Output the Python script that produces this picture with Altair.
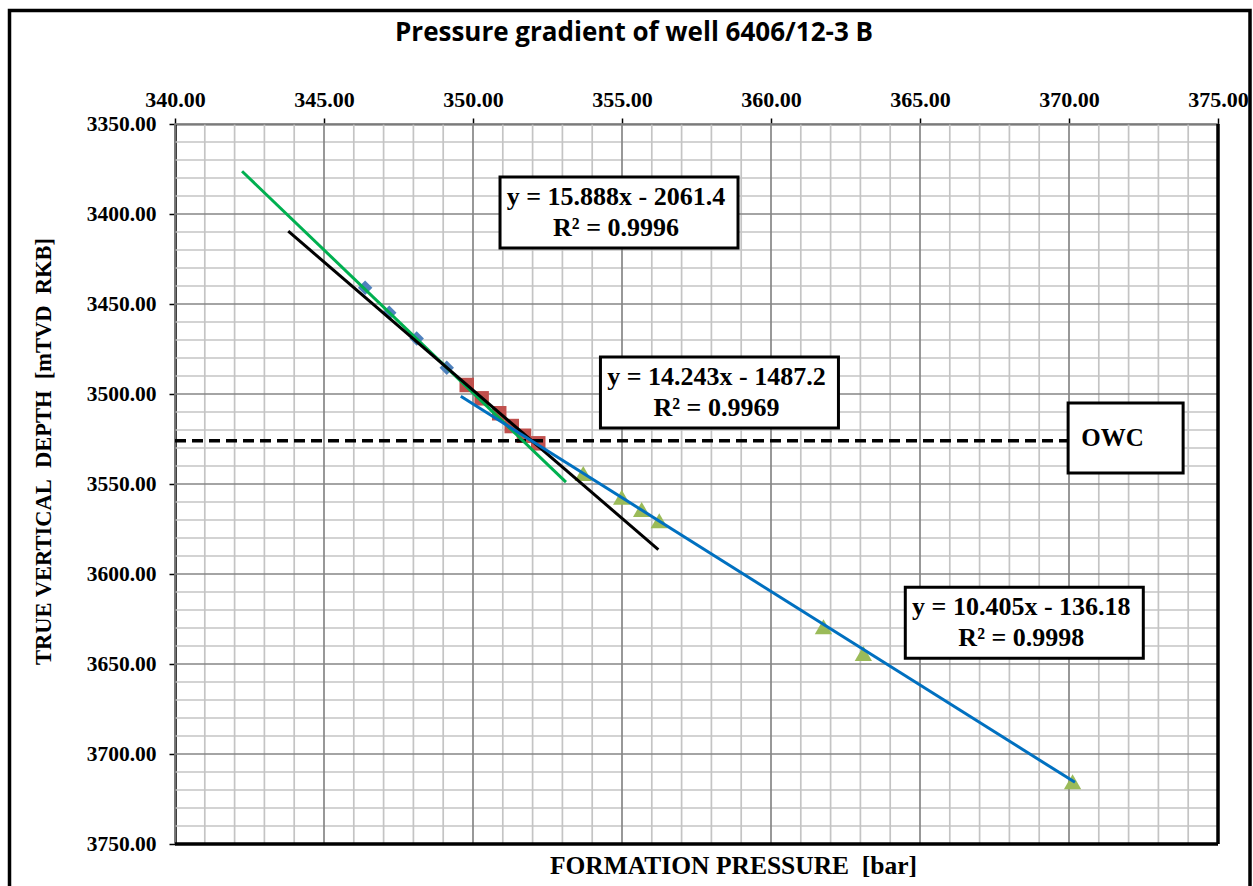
import altair as alt
import pandas as pd

# Measured formation pressure [bar] against true vertical depth [mTVD RKB]
set1_pressure = [346.38, 347.19, 348.11, 349.12]
set1_depth = [3441.0, 3454.8, 3469.2, 3485.4]

set2_pressure = [349.79, 350.29, 350.88, 351.30, 351.71, 352.19]
set2_depth = [3495.0, 3502.4, 3510.7, 3517.8, 3523.2, 3527.4]

set3_pressure = [353.70, 354.99, 355.66, 356.25, 361.76, 363.10, 370.12]
set3_depth = [3544.1, 3557.4, 3564.1, 3570.4, 3629.3, 3644.1, 3715.4]

# Linear trendlines: depth = slope * pressure + intercept
trend_name = ["t1", "t2", "t3"]
trend_color = ["#00b050", "#000000", "#0070c0"]
trend_slope = [15.888, 14.243, 10.405]
trend_intercept = [-2061.4, -1487.2, -136.18]
trend_r2 = [0.9996, 0.9969, 0.9998]
trend_p_start = [342.25, 343.80, 349.59]
trend_p_end = [353.12, 356.22, 370.20]

# Where each equation box is centred (pressure, depth)
label_pressure = [354.90, 358.27, 368.50]
label_depth = [3399.2, 3499.2, 3627.1]

# Oil-water contact
owc_depth = 3526.0
owc_label_pressure = 371.90
owc_label_depth = 3524.4

x_ticks = [340, 345, 350, 355, 360, 365, 370, 375]
y_ticks = [3350, 3400, 3450, 3500, 3550, 3600, 3650, 3700, 3750]
x_minor = [v for v in range(340, 376) if v % 5]
y_minor = [v for v in range(3350, 3751, 10) if v % 50]

W, H = 1043, 720
SERIF = "Liberation Serif"

xs = alt.Scale(domain=[340, 375], nice=False, zero=False)
ys = alt.Scale(domain=[3350, 3750], reverse=True, nice=False, zero=False)

x_axis = alt.Axis(
    orient="top", values=x_ticks, format=".2f", grid=False,
    labelFont=SERIF, labelFontWeight="bold", labelFontSize=22, labelColor="black",
    labelFlush=False, labelOverlap=False, labelBaseline="alphabetic", labelPadding=12,
    tickColor="black", tickSize=6, tickWidth=1.5,
    domainColor="#595959", domainWidth=2,
    title="FORMATION PRESSURE\u00a0 [bar]", titleFont=SERIF, titleFontWeight="bold",
    titleFontSize=25.5, titleColor="black", titleX=558, titleY=741,
    titleAlign="center", titleBaseline="middle", titleAngle=0,
)
y_axis = alt.Axis(
    orient="left", values=y_ticks, format=".2f", grid=False,
    labelFont=SERIF, labelFontWeight="bold", labelFontSize=21.5, labelColor="black",
    labelFlush=False, labelOverlap=False, labelPadding=13,
    tickColor="black", tickSize=6, tickWidth=1.5,
    domainColor="black", domainWidth=2.5,
    title="TRUE VERTICAL\u00a0 DEPTH\u00a0 [mTVD\u00a0 RKB]", titleFont=SERIF,
    titleFontWeight="bold", titleFontSize=22.5, titleColor="black",
    titleX=-132, titleY=327, titleAngle=270,
    titleAlign="center", titleBaseline="middle",
)


def X(field):
    return alt.X(field, type="quantitative", scale=xs, axis=x_axis)


def Y(field):
    return alt.Y(field, type="quantitative", scale=ys, axis=y_axis)


one = pd.DataFrame({"k": [0]})

# Grid
gx_minor = alt.Chart(pd.DataFrame({"p": x_minor})).mark_rule(color="#c4c4c4", strokeWidth=1.7).encode(x=X("p"))
gy_minor = alt.Chart(pd.DataFrame({"d": y_minor})).mark_rule(color="#c4c4c4", strokeWidth=1.7).encode(y=Y("d"))
gx_major = alt.Chart(pd.DataFrame({"p": x_ticks})).mark_rule(color="#868686", strokeWidth=1.7).encode(x=X("p"))
gy_major = alt.Chart(pd.DataFrame({"d": y_ticks})).mark_rule(color="#868686", strokeWidth=1.7).encode(y=Y("d"))

# Plot area edges on the right and bottom
edge_r = alt.Chart(pd.DataFrame({"p": [375]})).mark_rule(color="black", strokeWidth=3.5).encode(x=X("p"))
edge_b = alt.Chart(pd.DataFrame({"d": [3750]})).mark_rule(color="black", strokeWidth=3.5).encode(y=Y("d"))

# Measured points
pts1 = alt.Chart(pd.DataFrame({"p": set1_pressure, "d": set1_depth})).mark_point(
    shape="diamond", filled=True, size=210, color="#4f81bd", opacity=1
).encode(x=X("p"), y=Y("d"))
pts2 = alt.Chart(pd.DataFrame({"p": set2_pressure, "d": set2_depth})).mark_point(
    shape="square", filled=True, size=210, color="#c0504d", opacity=1
).encode(x=X("p"), y=Y("d"))
pts3 = alt.Chart(pd.DataFrame({"p": set3_pressure, "d": set3_depth})).mark_point(
    shape="triangle-up", filled=True, size=300, color="#9bbb59", opacity=1
).encode(x=X("p"), y=Y("d"))

# Trendlines computed from their stated equations
rows = []
for n, m, b, p0, p1 in zip(trend_name, trend_slope, trend_intercept, trend_p_start, trend_p_end):
    rows.append({"name": n, "p": p0, "d": m * p0 + b})
    rows.append({"name": n, "p": p1, "d": m * p1 + b})
trends = alt.Chart(pd.DataFrame(rows)).mark_line(strokeWidth=3).encode(
    x=X("p"), y=Y("d"),
    color=alt.Color("name:N", scale=alt.Scale(domain=trend_name, range=trend_color), legend=None),
    detail="name:N",
)

# OWC dashed line
owc = alt.Chart(pd.DataFrame({"p0": [340], "p1": [owc_label_pressure], "d": [owc_depth]})).mark_rule(
    color="black", strokeWidth=3.5, strokeDash=[11, 6]
).encode(x=X("p0"), x2="p1", y=Y("d"))

# Equation boxes
labels = pd.DataFrame({
    "p": label_pressure,
    "d": label_depth,
    "txt": [f"y = {m}x - {abs(b)}\nR\u00b2 = {r}" for m, b, r in zip(trend_slope, trend_intercept, trend_r2)],
})
boxes = alt.Chart(labels).mark_rect(width=238, height=71, fill="white", stroke="black", strokeWidth=3).encode(
    x=X("p"), y=Y("d"))
eq_text = alt.Chart(labels).mark_text(
    font=SERIF, fontWeight="bold", fontSize=26, lineBreak="\n", lineHeight=31,
    align="center", baseline="middle", color="black", dx=-3, dy=-15.5
).encode(x=X("p"), y=Y("d"), text="txt:N")

owc_df = pd.DataFrame({"p": [owc_label_pressure], "d": [owc_label_depth], "txt": ["OWC"]})
owc_box = alt.Chart(owc_df).mark_rect(width=115, height=70, fill="white", stroke="black", strokeWidth=3).encode(
    x=X("p"), y=Y("d"))
owc_text = alt.Chart(owc_df).mark_text(
    font=SERIF, fontWeight="bold", fontSize=25, align="center", baseline="middle", color="black", dx=-13
).encode(x=X("p"), y=Y("d"), text="txt:N")

# Chart heading and outer frame
heading = alt.Chart(one).mark_text(
    text="Pressure gradient of well 6406/12-3 B", font="Open Sans", fontWeight="bold",
    fontSize=26, align="center", baseline="alphabetic", color="black"
).encode(x=alt.value(459), y=alt.value(-83))
frame = alt.Chart(one).mark_rect(fill="white", fillOpacity=0, stroke="black", strokeWidth=3.5).encode(
    x=alt.value(-165.5), x2=alt.value(1075), y=alt.value(-113.5), y2=alt.value(800))

chart = alt.layer(
    gx_minor, gy_minor, gx_major, gy_major, edge_r, edge_b,
    pts1, pts2, pts3, owc, trends, boxes, eq_text, owc_box, owc_text, heading, frame,
).properties(
    width=W, height=H,
    autosize=alt.AutoSizeParams(type="none"),
    padding={"left": 175, "top": 124, "right": 35, "bottom": 42},
    background="white",
).configure_view(stroke=None)

chart.save("out.html", embed_options={"renderer": "svg", "actions": False})
